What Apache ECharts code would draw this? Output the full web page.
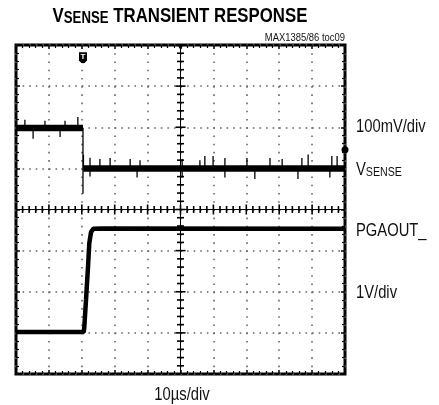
<!DOCTYPE html>
<html>
<head>
<meta charset="utf-8">
<script src="https://cdn.jsdelivr.net/npm/echarts@6/dist/echarts.min.js"></script>
<style>
  html, body { margin: 0; padding: 0; background: #fff; }
  #chart { width: 439px; height: 405px; }
</style>
</head>
<body>
<div id="chart"></div>
<script>
// time axis in µs (10 µs/div), vertical axis in divisions
const timeRange = [-20, 80];
const divRange = [-4, 4];

// VSENSE trace (100mV/div)
const vsensePre = [[-20, 1.98], [0.36, 1.98]];
const vsensePost = [[0.45, 1.0], [80, 1.0]];
// noise spikes and the step: [time, level, tip]
const vsenseSpikes = [
  [-17.3, 1.98, 2.18], [-14.8, 1.98, 1.72], [-11.2, 1.98, 2.16],
  [-6.6, 1.98, 1.76], [-5.1, 1.98, 2.16], [-1.2, 1.98, 2.25],
  [0.36, 1.98, 0.38], [0.5, 1.0, 1.33],
  [2.5, 1.0, 1.26], [2.5, 1.0, 0.8], [5.5, 1.0, 1.23], [8.6, 1.0, 1.25],
  [14.7, 1.0, 1.23], [16.8, 1.0, 0.78], [17.7, 1.0, 1.2], [30.5, 1.0, 1.23],
  [30.5, 1.0, 0.78], [35.9, 1.0, 1.2], [37.4, 1.0, 1.3], [39.9, 1.0, 1.3],
  [43.5, 1.0, 1.25], [43.5, 1.0, 0.78], [50.2, 1.0, 1.25], [52.6, 1.0, 0.74],
  [57.2, 1.0, 1.25], [60.9, 1.0, 1.23], [65.7, 1.0, 0.74], [66.9, 1.0, 1.25],
  [68.8, 1.0, 1.34], [75.4, 1.0, 0.78], [76.0, 1.0, 1.3], [77.6, 1.0, 1.3]
];

// PGAOUT_ trace (1V/div)
const pgaout = [
  [-20, -2.98], [0.6, -2.98], [0.76, -2.86], [1.28, -2.2], [1.88, -1.4],
  [2.28, -0.82], [2.8, -0.55], [3.5, -0.47], [6, -0.46], [80, -0.47]
];

// markers on the screen edge
const triggerMark = [0.36, 3.69];
const levelMark = [80, 1.45];

const FONT = '"Liberation Sans", Arial, sans-serif';
const SQ = 0.82; // squeeze to look like a condensed face

const chart = echarts.init(document.getElementById('chart'));

function edgeX(pos, withSplit) {
  return {
    type: 'value', min: timeRange[0], max: timeRange[1], interval: 10, position: pos,
    axisLine: { show: false, onZero: false },
    axisLabel: { show: false },
    axisTick: { show: true, inside: true, length: 4, lineStyle: { color: '#000', width: 1.5 } },
    minorTick: { show: true, splitNumber: 5, length: 3, lineStyle: { color: '#000', width: 1.2 } },
    splitLine: { show: withSplit, lineStyle: { color: '#666', width: 1.6, type: [1.6, 6.62] } }
  };
}
function edgeY(pos, withSplit) {
  return {
    type: 'value', min: divRange[0], max: divRange[1], interval: 1, position: pos,
    axisLine: { show: false, onZero: false },
    axisLabel: { show: false },
    axisTick: { show: true, inside: true, length: 4, lineStyle: { color: '#000', width: 1.5 } },
    minorTick: { show: true, splitNumber: 5, length: 3, lineStyle: { color: '#000', width: 1.2 } },
    splitLine: { show: withSplit, lineStyle: { color: '#666', width: 1.6, type: [1.6, 4.98] } }
  };
}

// center crosshair with its small ticks, built from the axes
function crosshair(params, api) {
  const kids = [];
  const c = api.coord([30, 0]);
  const l = api.coord([timeRange[0], 0]);
  const r = api.coord([timeRange[1], 0]);
  const t = api.coord([30, divRange[1]]);
  const b = api.coord([30, divRange[0]]);
  const st = { stroke: '#000', lineWidth: 1 };
  kids.push({ type: 'line', shape: { x1: l[0], y1: c[1], x2: r[0], y2: c[1] }, style: st });
  kids.push({ type: 'line', shape: { x1: c[0], y1: t[1], x2: c[0], y2: b[1] }, style: st });
  for (let i = 1; i < 50; i++) {
    const p = api.coord([timeRange[0] + i * 2, 0]);
    const h = i % 5 === 0 ? 5 : 3.5;
    kids.push({ type: 'line', shape: { x1: p[0], y1: c[1] - h, x2: p[0], y2: c[1] + h }, style: { stroke: '#000', lineWidth: 1.6 } });
  }
  for (let i = 1; i < 40; i++) {
    const p = api.coord([30, divRange[0] + i * 0.2]);
    const w = i % 5 === 0 ? 5 : 3.5;
    kids.push({ type: 'line', shape: { x1: c[0] - w, y1: p[1], x2: c[0] + w, y2: p[1] }, style: { stroke: '#000', lineWidth: 1.6 } });
  }
  return { type: 'group', children: kids };
}

function spikes(params, api) {
  const a = api.coord([api.value(0), api.value(1)]);
  const b = api.coord([api.value(0), api.value(2)]);
  return { type: 'line', shape: { x1: a[0], y1: a[1], x2: b[0], y2: b[1] }, style: { stroke: '#000', lineWidth: 1.3 } };
}

function label(x, y, text, size, align) {
  return { type: 'text', x: x, y: y, scaleX: SQ, silent: true,
    style: { x: 0, y: 0, align: align || 'left', verticalAlign: 'middle', text: text, font: size + 'px ' + FONT, fill: '#111' } };
}

const option = {
  animation: false,
  backgroundColor: '#fff',
  grid: { left: 16, top: 45, right: 94, bottom: 31, show: true, borderColor: '#000', borderWidth: 3, backgroundColor: 'transparent' },
  xAxis: [edgeX('bottom', true), edgeX('top', false)],
  yAxis: [edgeY('left', true), edgeY('right', false)],
  graphic: [
    { type: 'text', x: 180, y: 16, scaleX: 0.8, silent: true,
      style: { x: 0, y: 0, align: 'center', verticalAlign: 'middle',
        text: '{v|V}{s|SENSE}{t| TRANSIENT RESPONSE}',
        rich: {
          v: { fontFamily: FONT, fontWeight: 'bold', fontSize: 21, fill: '#000', verticalAlign: 'bottom' },
          s: { fontFamily: FONT, fontWeight: 'bold', fontSize: 16.5, fill: '#000', verticalAlign: 'bottom' },
          t: { fontFamily: FONT, fontWeight: 'bold', fontSize: 21, fill: '#000', verticalAlign: 'bottom' }
        } } },
    label(345, 38, 'MAX1385/86 toc09', 11.5, 'right'),
    label(356, 127, '100mV/div', 18),
    { type: 'text', x: 356, y: 170, scaleX: SQ, silent: true,
      style: { x: 0, y: 0, verticalAlign: 'middle', text: '{v|V}{s|SENSE}',
        rich: { v: { fontFamily: FONT, fontSize: 18, fill: '#111', verticalAlign: 'bottom' }, s: { fontFamily: FONT, fontSize: 13, fill: '#111', verticalAlign: 'bottom' } } } },
    label(356, 231, 'PGAOUT_', 18),
    label(356, 293, '1V/div', 18),
    label(182, 395, '10\u00b5s/div', 18, 'center')
  ],
  series: [
    { type: 'custom', renderItem: crosshair, data: [[0]], silent: true, z: 1 },
    {
      type: 'line', data: vsensePre, symbol: 'none', lineStyle: { color: '#000', width: 6.5 }, z: 3,
      markPoint: {
        silent: true,
        data: [
          { coord: triggerMark, symbol: 'path://M0,0 L10,0 L10,9 Q5,15 0,9 Z', symbolSize: [8, 11],
            itemStyle: { color: '#000' }, label: { show: true, formatter: 'T', color: '#fff', fontSize: 8, fontWeight: 'bold', offset: [0, -1] } },
          { coord: [30, 3.95], symbol: 'triangle', symbolRotate: 180, symbolSize: [7, 6], itemStyle: { color: '#000' }, label: { show: false } },
          { coord: levelMark, symbol: 'circle', symbolSize: 7, itemStyle: { color: '#000' }, label: { show: false } }
        ]
      }
    },
    { type: 'line', data: vsensePost, symbol: 'none', lineStyle: { color: '#000', width: 6.5 }, z: 3 },
    { type: 'custom', renderItem: spikes, data: vsenseSpikes, silent: true, z: 4 },
    { type: 'line', data: pgaout, symbol: 'none', lineStyle: { color: '#000', width: 4.5 }, z: 3 }
  ]
};
chart.setOption(option);
</script>
</body>
</html>
